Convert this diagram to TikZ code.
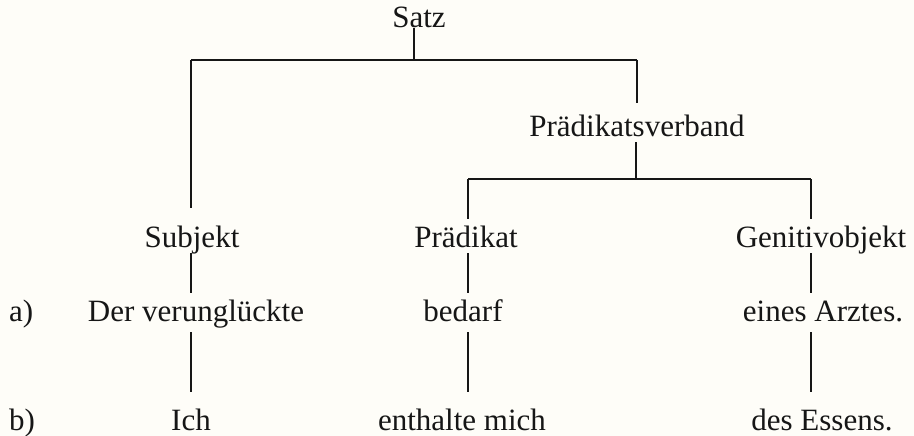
\documentclass[tikz,border=0pt]{standalone}
\usepackage{fontspec}
\setmainfont{Liberation Serif}
\usetikzlibrary{calc}
\definecolor{paper}{HTML}{FEFDF8}
\definecolor{ink}{HTML}{161616}
\tikzset{
  lbl/.style={inner sep=0pt, text height=28pt, text depth=6pt, anchor=base,
              text=ink, font=\fontsize{31pt}{36pt}\selectfont},
  branch/.style={draw=ink, line width=1.7pt},
  link/.style={draw=ink, line width=1.3pt},
}
\begin{document}
\begin{tikzpicture}[x=1pt, y=-1pt]
  \fill[paper] (0,0) rectangle (914,436);
  \useasboundingbox (0,0) rectangle (914,436);

  % labels
  \node[lbl] (satz) at (419,28)  {Satz};
  \node[lbl] (pv)   at (637,136) {Prädikatsverband};
  \node[lbl] (subj) at (192,247) {Subjekt};
  \node[lbl] (pred) at (466,247) {Prädikat};
  \node[lbl] (gen)  at (821,247) {Genitivobjekt};

  \node[lbl, anchor=base west] (la) at (9,321) {a)};
  \node[lbl] (a1) at (196,321) {Der verunglückte};
  \node[lbl] (a2) at (463,321) {bedarf};
  \node[lbl] (a3) at (823,321) {eines Arztes.};

  \node[lbl, anchor=base west] (lb) at (9,430) {b)};
  \node[lbl] (b1) at (191,430) {Ich};
  \node[lbl] (b2) at (462,430) {enthalte mich};
  \node[lbl] (b3) at (822,430) {des Essens.};

  % branching points
  \coordinate (topL) at (191,60);
  \coordinate (topR) at (637,60);
  \coordinate (topM) at ($(topL)!0.5!(topR)$);
  \coordinate (midL) at (468,179);
  \coordinate (midR) at (811,179);

  % Satz -> Subjekt / Praedikatsverband
  \draw[branch] (satz.base -| topM) -- (topM);
  \draw[branch] (topL) -- (topR);
  \draw[branch, shorten >=11pt] (topL) -- (subj.north -| topL);
  \draw[branch, shorten >=5pt] (topR) -- (pv.north -| topR);

  % Praedikatsverband -> Praedikat / Genitivobjekt
  \draw[branch] (pv.south -| 636,0) -- (636,179);
  \draw[branch] (midL) -- (midR);
  \draw[branch] (midL) -- (pred.north -| midL);
  \draw[branch] (midR) -- (gen.north -| midR);

  % categories -> row a)
  \draw[link] (subj.south -| topL) -- (a1.north -| topL);
  \draw[link] (pred.south -| midL) -- (a2.north -| midL);
  \draw[link] (gen.south -| midR)  -- (a3.north -| midR);

  % row a) -> row b)
  \draw[link, shorten <=5pt, shorten >=10pt] (a1.south -| topL) -- (b1.north -| topL);
  \draw[link, shorten <=5pt, shorten >=10pt] (a2.south -| midL) -- (b2.north -| midL);
  \draw[link, shorten <=5pt, shorten >=10pt] (a3.south -| midR) -- (b3.north -| midR);
\end{tikzpicture}
\end{document}
